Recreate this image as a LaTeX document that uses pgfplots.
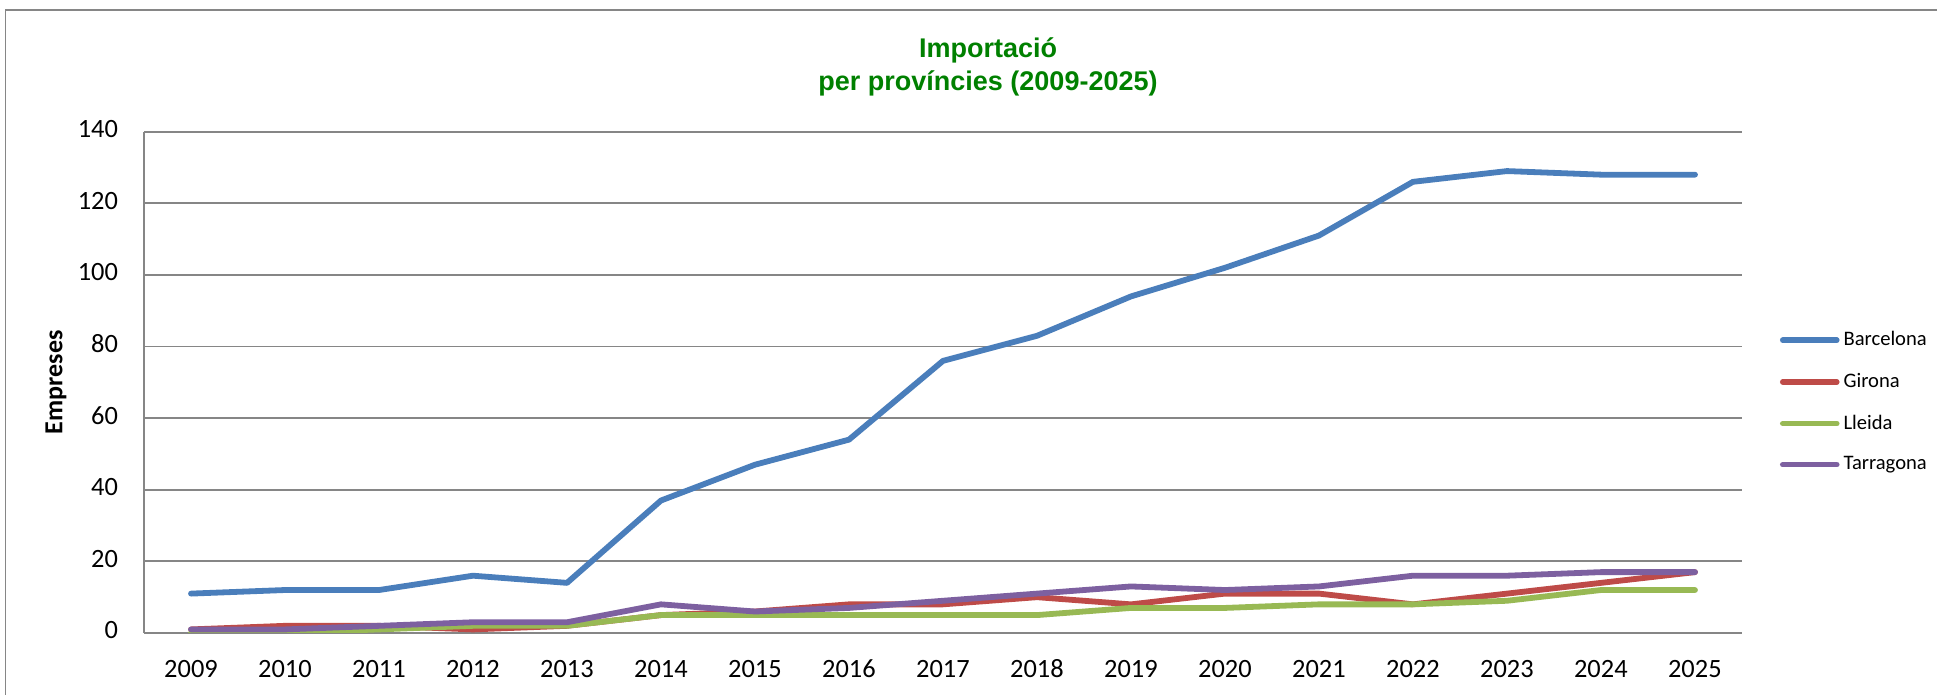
\documentclass[border=0pt]{standalone}
\usepackage{pgfplots}
\pgfplotsset{compat=1.18}
\usepackage{fontspec}
\setmainfont{Carlito}
\newfontfamily\arialfont{Liberation Sans}
\definecolor{cBar}{HTML}{4A7EBB}
\definecolor{cGir}{HTML}{BE4B48}
\definecolor{cLle}{HTML}{98B954}
\definecolor{cTar}{HTML}{7D60A0}
\definecolor{cGrid}{HTML}{868686}
\definecolor{cTitle}{HTML}{008000}
\begin{document}
\begin{tikzpicture}
\useasboundingbox (0pt,0pt) rectangle (968.5pt,347.5pt);
\draw[cGrid, line width=0.9pt] (2.75pt,0pt) -- (2.75pt,342.5pt) -- (968.5pt,342.5pt);
\node[font=\arialfont\bfseries\fontsize{13.5}{16.6}\selectfont, text=cTitle, align=center, anchor=center] at (494pt,314pt) {Importació\\per províncies (2009-2025)};
\begin{axis}[
  at={(72pt,31pt)}, anchor=south west,
  scale only axis, width=799pt, height=250.65pt,
  xmin=2008.5, xmax=2025.5, ymin=0, ymax=140,
  xtick={2009,...,2025}, ytick={0,20,...,140},
  /pgf/number format/1000 sep={},
  /pgf/number format/assume math mode=true,
  tick label style={font=\fontsize{13.2}{15}\selectfont},
  typeset ticklabels with strut,
  major tick length=0pt,
  axis x line=bottom, axis y line=left,
  axis line style={cGrid, line width=0.9pt, -},
  ymajorgrids, grid style={cGrid, line width=0.9pt},
  yticklabel style={xshift=-9.5pt},
  xticklabel style={yshift=-8pt},
  ylabel={\bfseries Empreses},
  ylabel style={font=\fontsize{13}{15}\selectfont, at={(axis description cs:-0.0551,0.5)}, anchor=center},
  legend style={at={(1.0235,0.61)}, anchor=north west, draw=none, fill=none,
    font=\fontsize{10.3}{12}\selectfont, row sep=8.2pt, inner sep=0pt,
    cells={anchor=west}},
  legend image code/.code={\draw[line width=2.8pt, line cap=round] (0pt,0pt) -- (27pt,0pt);},
  every axis plot/.append style={line width=2.9pt, line join=round, line cap=round, mark=none},
]
\addplot[cBar] coordinates {(2009,11)(2010,12)(2011,12)(2012,16)(2013,14)(2014,37)(2015,47)(2016,54)(2017,76)(2018,83)(2019,94)(2020,102)(2021,111)(2022,126)(2023,129)(2024,128)(2025,128)};
\addlegendentry{Barcelona}
\addplot[cGir] coordinates {(2009,1)(2010,2)(2011,2)(2012,1)(2013,2)(2014,5)(2015,6)(2016,8)(2017,8)(2018,10)(2019,8)(2020,11)(2021,11)(2022,8)(2023,11)(2024,14)(2025,17)};
\addlegendentry{Girona}
\addplot[cLle] coordinates {(2009,0)(2010,0)(2011,1)(2012,2)(2013,2)(2014,5)(2015,5)(2016,5)(2017,5)(2018,5)(2019,7)(2020,7)(2021,8)(2022,8)(2023,9)(2024,12)(2025,12)};
\addlegendentry{Lleida}
\addplot[cTar] coordinates {(2009,1)(2010,1)(2011,2)(2012,3)(2013,3)(2014,8)(2015,6)(2016,7)(2017,9)(2018,11)(2019,13)(2020,12)(2021,13)(2022,16)(2023,16)(2024,17)(2025,17)};
\addlegendentry{Tarragona}
\end{axis}
\end{tikzpicture}
\end{document}
